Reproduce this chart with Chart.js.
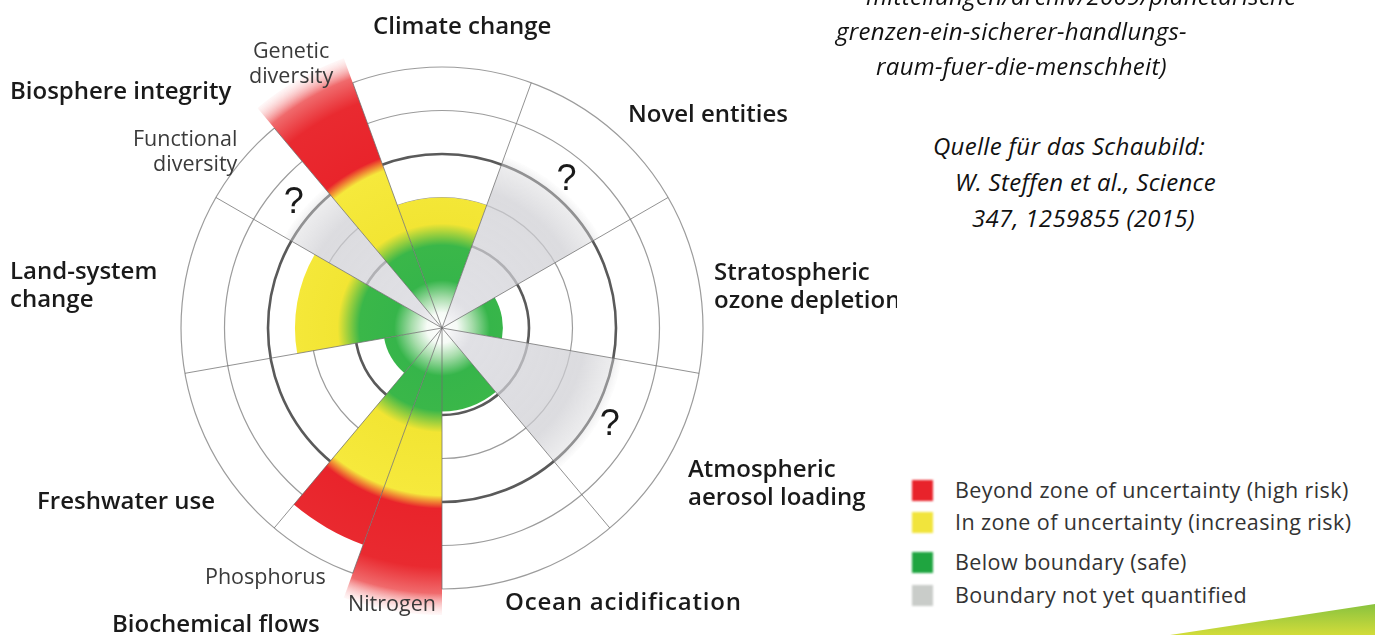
<!DOCTYPE html>
<html>
<head>
<meta charset="utf-8">
<script src="https://cdn.jsdelivr.net/npm/chart.js@4.4.1/dist/chart.umd.min.js"></script>
<style>
  html, body { margin: 0; padding: 0; background: #fff; }
  body { width: 1375px; height: 635px; position: relative; overflow: hidden; font-family: "Open Sans", sans-serif; }
  #wrap { position: absolute; left: 0; top: 0; width: 897px; height: 635px; overflow: hidden; }
  #c { position: absolute; left: 0; top: 0; }
  .lab { position: absolute; white-space: nowrap; color: #1a1a1a; font-weight: 600; font-size: 24px; line-height: 28px; }
  .sub { position: absolute; white-space: nowrap; color: #3a3a3a; font-weight: 400; font-size: 21.5px; line-height: 25px; }
  .note { position: absolute; white-space: nowrap; color: #111; font-style: italic; font-size: 24px; line-height: 26px; letter-spacing: 0.3px; }
  .leg { position: absolute; left: 912px; width: 21px; height: 21px; filter: blur(0.8px); }
  .legt { position: absolute; left: 955px; white-space: nowrap; color: #333; font-size: 21.5px; line-height: 26px; letter-spacing: 0.4px; }
  #deco { position: absolute; left: 1170px; top: 600px; width: 205px; height: 35px;
          clip-path: polygon(0 35px, 205px 4px, 205px 35px);
          background: linear-gradient(to bottom, #7fbf3f, #d2dc3a); }
</style>
</head>
<body>
<div id="wrap">
  <canvas id="c" width="900" height="635"></canvas>
  <div class="lab" style="left:373px;top:11px">Climate change</div>
  <div class="lab" style="left:10px;top:76px">Biosphere integrity</div>
  <div class="lab" style="left:10px;top:256px">Land-system<br>change</div>
  <div class="lab" style="left:37px;top:486px">Freshwater use</div>
  <div class="lab" style="left:112px;top:609px">Biochemical flows</div>
  <div class="lab" style="left:505px;top:587px;letter-spacing:0.8px">Ocean acidification</div>
  <div class="lab" style="left:688px;top:454px">Atmospheric<br>aerosol loading</div>
  <div class="lab" style="left:714px;top:257px">Stratospheric<br>ozone depletion</div>
  <div class="lab" style="left:628px;top:99px">Novel entities</div>
  <div class="sub" style="left:249px;top:37px;text-align:center">Genetic<br>diversity</div>
  <div class="sub" style="left:133px;top:125px;text-align:right">Functional<br>diversity</div>
  <div class="sub" style="left:205px;top:563px">Phosphorus</div>
  <div class="sub" style="left:348px;top:590px">Nitrogen</div>
</div>

<div class="note" style="left:866px;top:-17px">mitteilungen/archiv/2009/planetarische-</div>
<div class="note" style="left:836px;top:18px">grenzen-ein-sicherer-handlungs-</div>
<div class="note" style="left:876px;top:53px">raum-fuer-die-menschheit)</div>
<div class="note" style="left:933px;top:133px">Quelle für das Schaubild:</div>
<div class="note" style="left:955px;top:169px">W. Steffen et al., Science</div>
<div class="note" style="left:972px;top:205px">347, 1259855 (2015)</div>

<div class="leg" style="top:480px;background:#e8232b"></div>
<div class="leg" style="top:512px;background:#f1e43c"></div>
<div class="leg" style="top:552px;background:#1fa540"></div>
<div class="leg" style="top:585px;background:#c9ccc9"></div>
<div class="legt" style="top:477px">Beyond zone of uncertainty (high risk)</div>
<div class="legt" style="top:509px">In zone of uncertainty (increasing risk)</div>
<div class="legt" style="top:549px">Below boundary (safe)</div>
<div class="legt" style="top:582px">Boundary not yet quantified</div>
<div id="deco"></div>

<script>
// ---- data (clockwise, starting at the top-left edge of "Climate change") ----
const boundaries = ['Climate change', 'Novel entities', 'Stratospheric ozone depletion',
  'Atmospheric aerosol loading', 'Ocean acidification', 'Nitrogen', 'Phosphorus',
  'Freshwater use', 'Land-system change', 'Functional diversity', 'Genetic diversity'];
// control variable, in units of the ring grid (boundary = 2, top of uncertainty zone = 4)
const status = [3.0, 4.2, 1.4, 4.2, 1.92, 6.6, 5.3, 1.35, 3.38, 4.2, 6.6];
// whether the boundary is quantified
const quantified = [true, false, true, false, true, true, true, true, true, false, true];
// angular share of each segment (degrees)
const angularShare = [40, 40, 40, 40, 40, 20, 20, 40, 40, 20, 20];
const ringTicks = [1, 2, 3, 4, 5, 6];
const boundaryRings = [2, 4];

const gradCache = {};
function makeGradient(chart, kind) {
  const s = chart.scales.r;
  if (!s || !isFinite(s.xCenter)) return 'rgba(0,0,0,0)';
  const key = kind + s.xCenter + '_' + s.yCenter + '_' + s.drawingArea;
  if (gradCache[key]) return gradCache[key];
  const top = 7;
  const R = s.getDistanceFromCenterForValue(top);
  const g = chart.ctx.createRadialGradient(s.xCenter, s.yCenter, 0, s.xCenter, s.yCenter, R);
  const stops = kind === 'q' ? [
    [0, '#ffffff'], [0.35, '#f6fbf6'], [0.7, '#a6dcaa'], [1.1, '#36b54a'], [1.9, '#3ab749'],
    [2.4, '#f2e533'], [3.85, '#f6e93c'], [4.15, '#e9242b'], [5.5, '#e92a30'],
    [6.1, '#f06a6c'], [6.65, 'rgba(255,240,240,0.2)'], [7, 'rgba(255,255,255,0)']
  ] : [
    [0, 'rgba(255,255,255,0.9)'], [0.7, 'rgba(214,214,220,0.75)'], [3.3, 'rgba(205,205,210,0.7)'],
    [4.0, 'rgba(215,215,218,0.45)'], [4.25, 'rgba(235,235,235,0)'], [7, 'rgba(255,255,255,0)']
  ];
  stops.forEach(([v, c]) => g.addColorStop(Math.min(1, v / top), c));
  gradCache[key] = g;
  return g;
}

const spokes = {
  id: 'spokes',
  afterDatasetsDraw(chart) {
    const s = chart.scales.r, meta = chart.getDatasetMeta(0), ctx = chart.ctx;
    const R = s.getDistanceFromCenterForValue(s.max);
    ctx.save();
    ctx.strokeStyle = 'rgba(110,110,110,0.75)';
    ctx.lineWidth = 1;
    meta.data.forEach(arc => {
      const a = arc.startAngle;
      ctx.beginPath();
      ctx.moveTo(s.xCenter, s.yCenter);
      ctx.lineTo(s.xCenter + R * Math.cos(a), s.yCenter + R * Math.sin(a));
      ctx.stroke();
    });
    // question marks for unquantified boundaries
    ctx.fillStyle = '#1a1a1a';
    ctx.font = '36px "Liberation Sans", Arial, sans-serif';
    ctx.textAlign = 'center';
    ctx.textBaseline = 'middle';
    meta.data.forEach((arc, i) => {
      if (quantified[i]) return;
      const a = (arc.startAngle + arc.endAngle) / 2;
      const r = s.getDistanceFromCenterForValue(4.45);
      ctx.fillText('?', s.xCenter + r * Math.cos(a), s.yCenter + r * Math.sin(a));
    });
    ctx.restore();
  }
};

new Chart(document.getElementById('c'), {
  type: 'polarArea',
  data: {
    labels: boundaries,
    datasets: [{
      data: status,
      angle: angularShare,
      borderWidth: 0,
      clip: false,
      backgroundColor: ctx => makeGradient(ctx.chart, quantified[ctx.dataIndex] ? 'q' : 'u')
    }]
  },
  options: {
    responsive: false,
    animation: false,
    layout: { padding: { left: 181, right: 197, top: 67, bottom: 46 } },
    plugins: { legend: { display: false }, tooltip: { enabled: false } },
    scales: {
      r: {
        min: 0, max: 6, startAngle: -20,
        afterBuildTicks: sc => { sc.ticks = ringTicks.map(v => ({ value: v })); },
        ticks: { display: false, stepSize: 1 },
        pointLabels: { display: false },
        angleLines: { display: false },
        grid: {
          circular: true,
          color: c => boundaryRings.includes(c.tick.value) ? '#5a5a5a' : '#9c9c9c',
          lineWidth: c => c.tick.value === 1 ? 0 : (boundaryRings.includes(c.tick.value) ? 2.6 : 1.2)
        }
      }
    }
  },
  plugins: [spokes]
});
</script>
</body>
</html>
